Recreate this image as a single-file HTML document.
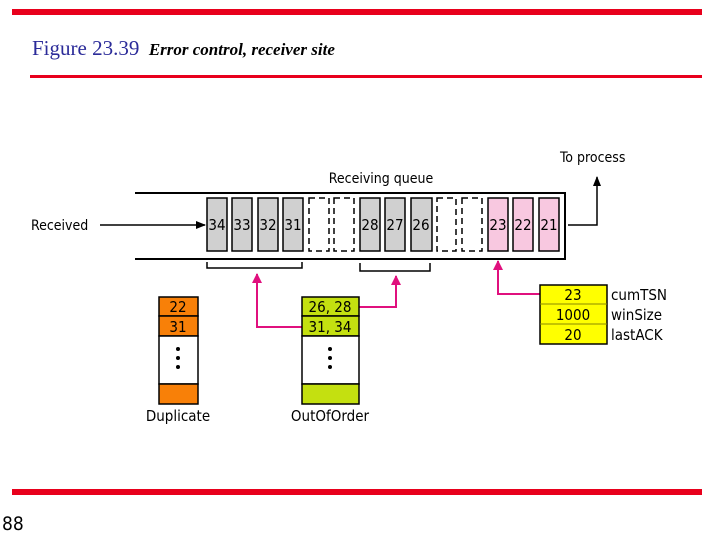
<!DOCTYPE html>
<html><head><style>
body{margin:0;width:720px;height:540px;background:#fff;position:relative;overflow:hidden;font-family:"DejaVu Sans","Liberation Sans",sans-serif}
.r{position:absolute;background:#e8001c}
</style></head><body>
<div class="r" style="left:12px;top:9px;width:690px;height:6px"></div>
<div class="r" style="left:30px;top:75px;width:672px;height:3px"></div>
<div class="r" style="left:12px;top:489px;width:690px;height:6px"></div>
<div style="position:absolute;left:32px;top:36px;font-family:'Liberation Serif',serif;color:#2b2b99;font-size:21px">Figure 23.39 <i style="color:#000;font-size:17px;font-weight:bold">&nbsp;Error control, receiver site</i></div>
<div style="position:absolute;left:2px;top:513px;font-size:19px;font-family:'DejaVu Sans Condensed','DejaVu Sans',sans-serif">88</div>
<svg width="720" height="540" style="position:absolute;left:0;top:0" font-family="DejaVu Sans Condensed, DejaVu Sans, sans-serif" font-size="14">
<defs>
<marker id="a" markerWidth="10" markerHeight="8" refX="9" refY="4" orient="auto" markerUnits="userSpaceOnUse"><path d="M0,0L10,4L0,8z" fill="#000"/></marker>
<marker id="p" markerWidth="10" markerHeight="10" refX="9" refY="5" orient="auto" markerUnits="userSpaceOnUse"><path d="M0,0L10,5L0,10z" fill="#e0107e"/></marker>
</defs>
<path d="M135,193H565V259H135" fill="none" stroke="#000" stroke-width="2"/>
<text x="381" y="183" text-anchor="middle">Receiving queue</text>
<text x="31" y="230">Received</text>
<line x1="100" y1="225" x2="205" y2="225" stroke="#000" stroke-width="1.5" marker-end="url(#a)"/>
<path d="M568,225H597V177" fill="none" stroke="#000" stroke-width="1.5" marker-end="url(#a)"/>
<text x="560" y="162">To process</text>
<g stroke="#000" stroke-width="1.5">
<rect x="207" y="198" width="20" height="53" fill="#d0d0d0"/>
<rect x="232" y="198" width="20" height="53" fill="#d0d0d0"/>
<rect x="258" y="198" width="20" height="53" fill="#d0d0d0"/>
<rect x="283" y="198" width="20" height="53" fill="#d0d0d0"/>
<rect x="309" y="198" width="20" height="53" fill="#fff" stroke-dasharray="6,4"/>
<rect x="334" y="198" width="20" height="53" fill="#fff" stroke-dasharray="6,4"/>
<rect x="360" y="198" width="20" height="53" fill="#d0d0d0"/>
<rect x="385" y="198" width="20" height="53" fill="#d0d0d0"/>
<rect x="411" y="198" width="21" height="53" fill="#d0d0d0"/>
<rect x="437" y="198" width="19" height="53" fill="#fff" stroke-dasharray="6,4"/>
<rect x="462" y="198" width="20" height="53" fill="#fff" stroke-dasharray="6,4"/>
<rect x="488" y="198" width="20" height="53" fill="#f8c8e0"/>
<rect x="513" y="198" width="20" height="53" fill="#f8c8e0"/>
<rect x="539" y="198" width="20" height="53" fill="#f8c8e0"/>
</g>
<g text-anchor="middle" font-size="15">
<text x="217" y="230">34</text><text x="242" y="230">33</text><text x="268" y="230">32</text><text x="293" y="230">31</text>
<text x="370" y="230">28</text><text x="395" y="230">27</text><text x="421" y="230">26</text>
<text x="498" y="230">23</text><text x="523" y="230">22</text><text x="549" y="230">21</text>
</g>
<path d="M207,262V268H302V262M360,263V271H430V263" fill="none" stroke="#000" stroke-width="1.5"/>
<g fill="none" stroke="#e0107e" stroke-width="2">
<path d="M302,327H257V274" marker-end="url(#p)"/>
<path d="M359,307H396V276" marker-end="url(#p)"/>
<path d="M540,294H498V261" marker-end="url(#p)"/>
</g>
<g stroke="#000" stroke-width="1.5">
<rect x="159" y="297" width="39" height="19" fill="#f88008"/>
<rect x="159" y="316" width="39" height="20" fill="#f88008"/>
<rect x="159" y="336" width="39" height="48" fill="#fff"/>
<rect x="159" y="384" width="39" height="20" fill="#f88008"/>
<rect x="302" y="297" width="57" height="19" fill="#c4e010"/>
<rect x="302" y="316" width="57" height="20" fill="#c4e010"/>
<rect x="302" y="336" width="57" height="48" fill="#fff"/>
<rect x="302" y="384" width="57" height="20" fill="#c4e010"/>
<rect x="540" y="285" width="67" height="59" fill="#ffff00"/>
</g>
<path d="M540,304H607M540,324H607" stroke="#8a8a00" stroke-width="1"/>
<g text-anchor="middle" font-size="15">
<text x="178" y="312">22</text><text x="178" y="332">31</text>
<text x="330" y="312">26, 28</text><text x="330" y="332">31, 34</text>
<text x="573" y="300">23</text><text x="573" y="320">1000</text><text x="573" y="340">20</text>
<text x="178" y="421">Duplicate</text><text x="330" y="421">OutOfOrder</text>
</g>
<g fill="#000"><circle cx="178" cy="349" r="2"/><circle cx="178" cy="358" r="2"/><circle cx="178" cy="367" r="2"/>
<circle cx="330" cy="349" r="2"/><circle cx="330" cy="358" r="2"/><circle cx="330" cy="367" r="2"/></g>
<g font-size="15"><text x="611" y="300">cumTSN</text><text x="611" y="320">winSize</text><text x="611" y="340">lastACK</text></g>
</svg>
</body></html>
